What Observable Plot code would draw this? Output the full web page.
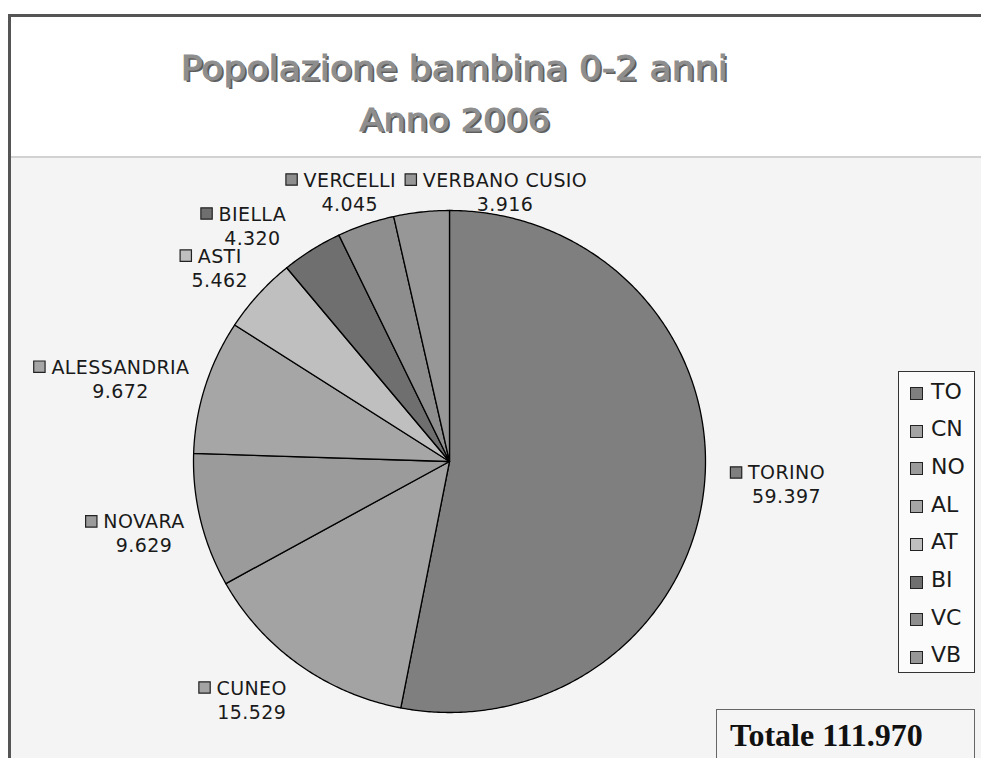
<!DOCTYPE html>
<html><head><meta charset="utf-8">
<script src="https://cdn.jsdelivr.net/npm/d3@7"></script>
<script src="https://cdn.jsdelivr.net/npm/@observablehq/plot@0.6"></script>
<style>
body{margin:0;width:981px;height:758px;overflow:hidden;background:#fff;position:relative;}
.abs{position:absolute;white-space:nowrap;}
#chart svg text{letter-spacing:0.4px}
</style></head><body>
<div class="abs" style="left:8px;top:14px;width:990px;height:760px;border-left:3px solid #555;border-top:3px solid #555;box-sizing:border-box"></div>
<div class="abs" style="left:11px;top:156px;width:980px;height:610px;background:#f4f4f4;border-top:2px solid #d2d2d2;box-sizing:border-box"></div>
<div id="chart" class="abs" style="left:0;top:158px"></div>
<div id="legend" class="abs" style="left:898px;top:371px;width:77px;height:302px;border:1.5px solid #333;background:#fbfbfb;box-sizing:border-box"></div>
<div id="totbox" class="abs" style="left:716px;top:709px;width:259px;height:70px;border:1.5px solid #666;background:#f5f5f5;box-sizing:border-box"></div>
<script>
// ---- data ----
const regions = ["TORINO","CUNEO","NOVARA","ALESSANDRIA","ASTI","BIELLA","VERCELLI","VERBANO CUSIO"];
const codes = ["TO","CN","NO","AL","AT","BI","VC","VB"];
const children = [59397,15529,9629,9672,5462,4320,4045,3916];
const sliceColors = ["#7f7f7f","#a3a3a3","#9b9b9b","#a6a6a6","#bfbfbf","#6f6f6f","#8e8e8e","#979797"];
const titleLines = ["Popolazione bambina 0-2 anni","Anno 2006"];
const totalPrefix = "Totale ";
// label offsets (px) from the radial anchor, as the original placed them
const labelNudge = [[18.5,-12],[-10,-21],[5.5,-7],[-23.7,6],[9,10],[-25,23.5],[5,21.5],[90.6,37]];

// ---- helpers ----
const itLocale = d3.formatLocale({decimal:",",thousands:".",grouping:[3],currency:["€",""]});
const fmt = itLocale.format(",d");
const ctx = document.createElement("canvas").getContext("2d");
function measure(str, font){ctx.font = font; return ctx.measureText(str);}
function placeText(str, {family, size, weight="normal", x, baseline, anchor="start", color="#222", extra=""}) {
  const font = `${weight} ${size}px ${family}`;
  const m = measure(str, font);
  const A = m.fontBoundingBoxAscent, D = m.fontBoundingBoxDescent;
  const top = baseline - ((size - (A + D)) / 2 + A);
  const el = document.createElement("div");
  el.className = "abs";
  el.textContent = str;
  el.style.cssText += `font:${font};line-height:${size}px;top:${top}px;color:${color};${extra}`;
  if (anchor === "middle") { el.style.left = (x - m.width/2) + "px"; el.style.width = m.width + "px"; }
  else el.style.left = x + "px";
  document.body.appendChild(el);
  return {el, m};
}

// ---- title ----
const titleFamily = "'DejaVu Sans'";
const titleStyle = "text-shadow:2px 2px 0 #5e5e5e;-webkit-text-stroke:1px #8e8e8e;";
const t1 = placeText(titleLines[0], {family:titleFamily, size:33, weight:"normal", x:454, baseline:80, anchor:"middle", color:"#8e8e8e", extra:titleStyle});
const s1 = 547 / t1.m.width;
t1.el.style.transform = `scaleX(${s1})`;
const t2 = placeText(titleLines[1], {family:titleFamily, size:32, weight:"normal", x:455, baseline:131, anchor:"middle", color:"#8e8e8e", extra:titleStyle});
t2.el.style.transform = `scaleX(${s1})`;

// ---- pie ----
const data = regions.map((name,i)=>({name, code:codes[i], value:children[i], color:sliceColors[i]}));
const arcs = d3.pie().sort(null).value(d=>d.value)(data);
const verts = [];
arcs.forEach(a=>{
  const base = {name:a.data.name, color:a.data.color};
  verts.push({...base, x:0, y:0});
  const n = Math.max(2, Math.ceil((a.endAngle-a.startAngle)/(Math.PI/360)));
  for (let k=0;k<=n;k++){
    const t = a.startAngle + (a.endAngle-a.startAngle)*k/n;
    verts.push({...base, x:Math.sin(t), y:Math.cos(t)});
  }
});
const RX=256, RY=251, CX=449, CY=461-158;
const K=1.25;
const labelFont = "19px 'DejaVu Sans'";
const labels = arcs.map((a,i)=>{
  const m=(a.startAngle+a.endAngle)/2;
  const lx = K*Math.sin(m) + labelNudge[i][0]/RX;
  const ly = K*Math.cos(m) - labelNudge[i][1]/RY;
  const w = measure(a.data.name, labelFont).width + 0.4*a.data.name.length;
  return {name:a.data.name, color:a.data.color, num:fmt(a.data.value), lx, ly,
          ny: ly - 24/RY, mx: lx - (w/2 + 6 + 6)/RX, my: ly + 7/RY};
});
const plot = Plot.plot({
  width:981, height:600, margin:0,
  x:{domain:[-1,1], range:[CX-RX, CX+RX], axis:null},
  y:{domain:[-1,1], range:[CY+RY, CY-RY], axis:null},
  color:{type:"identity"},
  style:{background:"transparent", overflow:"visible"},
  marks:[
    Plot.line(verts,{x:"x",y:"y",z:"name",fill:"color",stroke:"#000",strokeWidth:1.3,curve:"linear-closed",strokeLinejoin:"round"}),
    Plot.dot(labels,{x:"mx",y:"my",symbol:"square",r:6.4,fill:"color",stroke:"#222",strokeWidth:1.2}),
    Plot.text(labels,{x:"lx",y:"ly",text:"name",fontSize:19,fontFamily:"DejaVu Sans",fill:"#1a1a1a",lineAnchor:"bottom",textAnchor:"middle"}),
    Plot.text(labels,{x:"lx",y:"ny",text:"num",fontSize:19,fontFamily:"DejaVu Sans",fill:"#1a1a1a",lineAnchor:"bottom",textAnchor:"middle"})
  ]
});
document.getElementById("chart").appendChild(plot);

// ---- legend ----
codes.forEach((c,i)=>{
  const baseline = 399 + i*37.7;
  const sq = document.createElement("div");
  sq.className="abs";
  sq.style.cssText += `left:910px;top:${baseline-12}px;width:11px;height:11px;background:${sliceColors[i]};border:1.2px solid #222;`;
  document.body.appendChild(sq);
  placeText(c, {family:"'DejaVu Sans'", size:22, x:931, baseline, color:"#1a1a1a"});
});

// ---- total ----
placeText(totalPrefix + fmt(d3.sum(children)), {family:"'Liberation Serif'", size:32, weight:"bold", x:730, baseline:746, color:"#111"});
</script>
</body></html>
